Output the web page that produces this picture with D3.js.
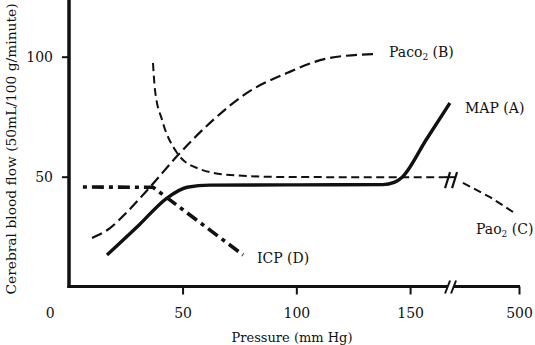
<!DOCTYPE html>
<html><head><meta charset="utf-8">
<script src="https://cdn.jsdelivr.net/npm/d3@7"></script>
<style>
html,body{margin:0;padding:0;background:#fff;}
svg text{font-family:"DejaVu Serif",serif;fill:#111;}
</style></head>
<body><svg id="c" width="535" height="345"></svg>
<script>
// ---- data ----
const xTicks = [0, 50, 100, 150, 500];
const yTicks = [50, 100];
const mapX = [16.8, 31, 43, 52, 62, 100, 138, 143, 146.5, 157, 167.5];
const mapY = [17.4, 30, 41, 45.6, 46.5, 46.6, 46.7, 47.6, 49.8, 65.3, 80.7];
const pacoX = [10.2, 18.1, 25.6, 35.7, 48, 63.4, 78.3, 95.9, 114.8, 133.7];
const pacoY = [24.5, 28.6, 35.3, 45.7, 59, 73.6, 84.9, 93.2, 99.5, 101.1];
const paoX = [37, 37.9, 41, 47.6, 56.4, 70.9, 92.8, 130, 164.5];
const paoY = [97.4, 86, 73.6, 59.9, 53.6, 50.7, 49.9, 49.8, 49.8];
const paoHighX = [208, 349, 469];
const paoHighY = [47.4, 41.5, 35.3];
const icpX = [6.2, 37, 76.6];
const icpY = [45.7, 45.6, 17.4];
const breakValue = 168;

const svg = d3.select("#c");
const x = d3.scaleLinear().domain([0, 170, 500]).range([68.8, 455.6, 519]);
const y = d3.scaleLinear().domain([0, 100]).range([296.7, 56.7]);
const axisY = 286.5, axisX = 69;

const zip = (a, b) => a.map((v, i) => [v, b[i]]);
const smooth = d3.line().x(d => x(d[0])).y(d => y(d[1])).curve(d3.curveMonotoneX);
const straight = d3.line().x(d => x(d[0])).y(d => y(d[1]));

// axes
const xa = svg.append("g").attr("transform", `translate(0,${axisY})`)
  .call(d3.axisBottom(x).tickValues(xTicks).tickSize(8).tickPadding(14).tickFormat(d3.format("d")));
xa.select(".domain").remove();
xa.selectAll(".tick line").attr("stroke", "#111").attr("stroke-width", 2);
xa.selectAll(".tick text").attr("font-size", 14).attr("fill", "#111");
xa.selectAll(".tick").filter(d => d === 0).select("line").remove();
xa.selectAll(".tick").filter(d => d === 0).select("text").attr("dx", -19);

const ya = svg.append("g").attr("transform", `translate(${axisX},0)`)
  .call(d3.axisLeft(y).tickValues(yTicks).tickSize(7).tickPadding(9));
ya.select(".domain").remove();
ya.selectAll(".tick line").attr("stroke", "#111").attr("stroke-width", 2);
ya.selectAll(".tick text").attr("font-size", 14).attr("fill", "#111");

const bx = x(breakValue);
svg.append("line").attr("x1", axisX).attr("x2", axisX).attr("y1", 0).attr("y2", axisY + 1.5)
  .attr("stroke", "#111").attr("stroke-width", 3.5);
svg.append("line").attr("x1", axisX - 1.5).attr("x2", bx - 3).attr("y1", axisY).attr("y2", axisY)
  .attr("stroke", "#111").attr("stroke-width", 3);
svg.append("line").attr("x1", bx + 3).attr("x2", x(500) + 1).attr("y1", axisY).attr("y2", axisY)
  .attr("stroke", "#111").attr("stroke-width", 3);
[-3, 3].forEach(o => {
  svg.append("line").attr("x1", bx + o - 3).attr("x2", bx + o + 2).attr("y1", axisY + 7).attr("y2", axisY - 6)
    .attr("stroke", "#111").attr("stroke-width", 2);
});

// curves
svg.append("path").attr("d", smooth(zip(pacoX, pacoY))).attr("fill", "none")
  .attr("stroke", "#111").attr("stroke-width", 2.2).attr("stroke-dasharray", "11,5");
svg.append("path").attr("d", smooth(zip(paoX, paoY))).attr("fill", "none")
  .attr("stroke", "#111").attr("stroke-width", 2).attr("stroke-dasharray", "8,4.5");
svg.append("path").attr("d", straight(zip(paoHighX, paoHighY))).attr("fill", "none")
  .attr("stroke", "#111").attr("stroke-width", 2).attr("stroke-dasharray", "8,4.5");
const py = y(paoY[paoY.length - 1]);
svg.append("line").attr("x1", x(paoX[paoX.length - 1])).attr("x2", bx + 5).attr("y1", py).attr("y2", py)
  .attr("stroke", "#111").attr("stroke-width", 2);
[-3, 4].forEach(o => {
  svg.append("line").attr("x1", bx + o - 3).attr("x2", bx + o + 2).attr("y1", py + 11).attr("y2", py - 5)
    .attr("stroke", "#111").attr("stroke-width", 2.2);
});
svg.append("path").attr("d", smooth(zip(mapX, mapY))).attr("fill", "none")
  .attr("stroke", "#111").attr("stroke-width", 3.4);
svg.append("path").attr("d", straight(zip(icpX, icpY))).attr("fill", "none")
  .attr("stroke", "#111").attr("stroke-width", 3.6).attr("stroke-dasharray", "4,5,12,5");

// labels
const lab = (tx, ty, parts) => {
  const t = svg.append("text").attr("x", tx).attr("y", ty).attr("font-size", 14);
  parts.forEach(p => {
    const s = t.append("tspan").text(p[0]);
    if (p[1]) s.attr("font-size", 9).attr("dy", 3);
    if (p[2]) s.attr("dy", -3);
  });
};
lab(389, 57, [["Paco"], ["2", true], [" (B)", false, true]]);
lab(465, 113, [["MAP (A)"]]);
lab(476, 234, [["Pao"], ["2", true], [" (C)", false, true]]);
lab(257, 263, [["ICP (D)"]]);

svg.append("text").attr("x", 292).attr("y", 342).attr("text-anchor", "middle")
  .attr("font-size", 13).text("Pressure (mm Hg)");
svg.append("text").attr("transform", "translate(16,149) rotate(-90)").attr("text-anchor", "middle")
  .attr("font-size", 13.8).text("Cerebral blood flow (50mL/100 g/minute)");
</script></body></html>
